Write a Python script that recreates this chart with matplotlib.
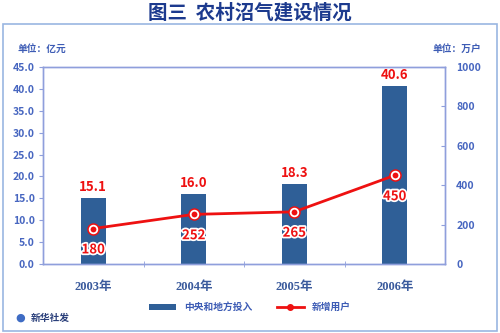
import matplotlib
matplotlib.use("Agg")
import matplotlib.pyplot as plt
from matplotlib.patches import Rectangle
from matplotlib.lines import Line2D
from matplotlib.patches import Patch
import matplotlib.patheffects as pe
import numpy as np

plt.rcParams['font.family'] = ['Noto Sans CJK SC', 'DejaVu Sans']

years = ["2003年", "2004年", "2005年", "2006年"]
investment = [15.1, 16.0, 18.3, 40.6]      # 亿元
new_users = [180, 252, 265, 450]           # 万户
left_ticks = [0, 5, 10, 15, 20, 25, 30, 35, 40, 45]
right_ticks = [0, 200, 400, 600, 800, 1000]

bar_color = "#2f5f97"
red = "#ee1111"
tick_color = "#4766c0"
spine_color = "#8f9fdc"

fig = plt.figure(figsize=(5, 3.33), dpi=100)

# outer frame
fig.add_artist(Rectangle((0.006, 0.006), 0.988, 0.922, transform=fig.transFigure,
                         fill=False, edgecolor="#9ab6e2", linewidth=1.2))

fig.text(0.5, 0.962, "图三  农村沼气建设情况", ha="center", va="center",
         fontsize=14, fontweight="bold", color="#1c3a8e")
fig.text(0.034, 0.853, "单位：亿元", ha="left", va="center",
         fontsize=7, fontweight="bold", color="#3d5cb5")
fig.text(0.962, 0.853, "单位：万户", ha="right", va="center",
         fontsize=7, fontweight="bold", color="#3d5cb5")

ax = fig.add_axes([0.086, 0.207, 0.804, 0.592])
x = np.arange(len(years))
ax.bar(x, investment, width=0.245, color=bar_color, zorder=2)
ax.set_xlim(-0.5, 3.5)
ax.set_ylim(0, 45)
ax.set_yticks(left_ticks)
ax.set_yticklabels([f"{t:.1f}" for t in left_ticks])
ax.set_xticks(x)
ax.set_xticklabels(years, family=["Liberation Serif", "Noto Sans CJK SC"],
                   fontsize=9, fontweight="bold", color="#3a5a9c")
ax.set_xticks([0.5, 1.5, 2.5], minor=True)
ax.tick_params(axis="x", which="major", length=0, pad=12)
ax.tick_params(axis="x", which="minor", length=4, direction="inout", color=spine_color)
ax.tick_params(axis="y", length=3, color=spine_color, labelcolor=tick_color,
               labelsize=7.5, pad=3)
for lab in ax.get_yticklabels():
    lab.set_fontweight("bold")
for s in ax.spines.values():
    s.set_color(spine_color)
    s.set_linewidth(1)

for xi, v in zip(x, investment):
    ax.annotate(f"{v:.1f}", (xi, v), xytext=(0, 3), textcoords="offset points",
                ha="center", va="bottom", fontsize=9.5, fontweight="bold",
                color=red, zorder=5)

ax2 = ax.twinx()
ax2.set_ylim(0, 1000)
ax2.set_yticks(right_ticks)
ax2.tick_params(axis="y", length=3, direction="in", color=spine_color,
                labelcolor=tick_color, labelsize=7.5, pad=8)
for lab in ax2.get_yticklabels():
    lab.set_fontweight("bold")
for s in ax2.spines.values():
    s.set_color(spine_color)
    s.set_linewidth(1)

ax2.plot(x, new_users, color=red, linewidth=2, marker="o", markersize=8,
         markerfacecolor=red, markeredgecolor=red, zorder=3)
ax2.plot(x, new_users, linestyle="none", marker="o", markersize=5.5,
         markerfacecolor=red, markeredgecolor="white", markeredgewidth=1.3, zorder=4)
for xi, v in zip(x, new_users):
    ax2.annotate(f"{v}", (xi, v), xytext=(0, -15), textcoords="offset points",
                 ha="center", va="center", fontsize=9.5, fontweight="bold",
                 color=red, zorder=5,
                 path_effects=[pe.withStroke(linewidth=2.5, foreground="white")])

handles = [Patch(facecolor=bar_color),
           Line2D([0], [0], color=red, linewidth=2, marker="o", markersize=4)]
fig.legend(handles, ["中央和地方投入", "新增用户"], loc="center",
           bbox_to_anchor=(0.5, 0.078), ncol=2, frameon=False,
           labelcolor="#3d5cb5", handlelength=2.8, handleheight=0.6,
           columnspacing=2.5, prop={"weight": "bold", "size": 7})

# agency mark
fig.text(0.03, 0.045, "●", ha="left", va="center", fontsize=8, color="#3f6cc4",
         family=["DejaVu Sans"])
fig.text(0.062, 0.045, "新华社发", ha="left", va="center", fontsize=7,
         fontweight="bold", color="#2a3f7a")

fig.savefig("out.png", dpi=100)
